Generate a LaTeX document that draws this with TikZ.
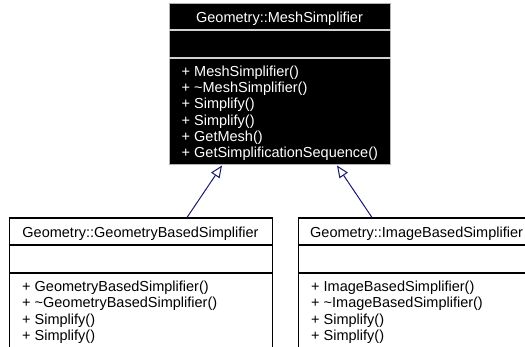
\documentclass[tikz,border=0pt]{standalone}
\usepackage{fontspec}
\setmainfont{Liberation Sans}
\usetikzlibrary{arrows.meta}
\begin{document}
\begin{tikzpicture}[x=1pt,y=-1pt,
  umlfont/.style={inner sep=0pt, font=\fontsize{14.5}{16.2}\selectfont},
  member/.style={umlfont, anchor=base west},
  title/.style={umlfont, anchor=base},
  darkbox/.style={draw=gray!60, fill=black, line width=1pt, anchor=north west, inner sep=0pt},
  lightbox/.style={draw=black, fill=white, line width=1.3pt, anchor=north west, inner sep=0pt},
  darksep/.style={draw=gray!35, line width=1.3pt},
  lightsep/.style={draw=black, line width=1.3pt},
  inherit/.style={draw={rgb,255:red,25;green,25;blue,112}, line width=1pt,
    -{Triangle[length=12pt, width=10pt, fill=white]}}]
\useasboundingbox (0,0) rectangle (525,347);
\clip (0,0) rectangle (525,347);

% base class
\node[darkbox, minimum width=221pt, minimum height=161pt] (mesh) at (169,3.5) {};
\draw[darksep] (mesh.west |- 0,30) -- (mesh.east |- 0,30);
\draw[darksep] (mesh.west |- 0,58) -- (mesh.east |- 0,58);
\node[title, text=white] (meshT) at (279.5,22.5) {Geometry::MeshSimplifier};
\node[member, text=white] (m1) at (181.5,76.5) {+ MeshSimplifier()};
\node[member, text=white] (m2) at (181.5,92.7) {+ \textasciitilde MeshSimplifier()};
\node[member, text=white] (m3) at (181.5,108.9) {+ Simplify()};
\node[member, text=white] (m4) at (181.5,125.1) {+ Simplify()};
\node[member, text=white] (m5) at (181.5,141.3) {+ GetMesh()};
\node[member, text=white] (m6) at (181.5,157.5) {+ GetSimplificationSequence()};

% geometry based subclass
\node[lightbox, minimum width=263pt, minimum height=160pt] (gbs) at (9,217.5) {};
\draw[lightsep] (gbs.west |- 0,245) -- (gbs.east |- 0,245);
\draw[lightsep] (gbs.west |- 0,273) -- (gbs.east |- 0,273);
\node[title] (gbsT) at (140.5,237.3) {Geometry::GeometryBasedSimplifier};
\node[member] (g1) at (22,291.7) {+ GeometryBasedSimplifier()};
\node[member] (g2) at (22,307.9) {+ \textasciitilde GeometryBasedSimplifier()};
\node[member] (g3) at (22,324.1) {+ Simplify()};
\node[member] (g4) at (22,340.3) {+ Simplify()};

% image based subclass
\node[lightbox, minimum width=240pt, minimum height=160pt] (ibs) at (298,217.5) {};
\draw[lightsep] (ibs.west |- 0,245) -- (ibs.east |- 0,245);
\draw[lightsep] (ibs.west |- 0,273) -- (ibs.east |- 0,273);
\node[member] (ibsT) at (310,237.3) {Geometry::ImageBasedSimplifier};
\node[member] (i1) at (311,291.7) {+ ImageBasedSimplifier()};
\node[member] (i2) at (311,307.9) {+ \textasciitilde ImageBasedSimplifier()};
\node[member] (i3) at (311,324.1) {+ Simplify()};
\node[member] (i4) at (311,340.3) {+ Simplify()};

% generalisation arrows
\coordinate (gbsFoot) at (gbs.north west -| 187,0);
\coordinate (gbsTip) at (mesh.south west -| 222,0);
\coordinate (ibsFoot) at (ibs.north west -| 372,0);
\coordinate (ibsTip) at (mesh.south west -| 337,0);
\draw[inherit] (gbsFoot) -- (gbsTip);
\draw[inherit] (ibsFoot) -- (ibsTip);
\end{tikzpicture}
\end{document}
